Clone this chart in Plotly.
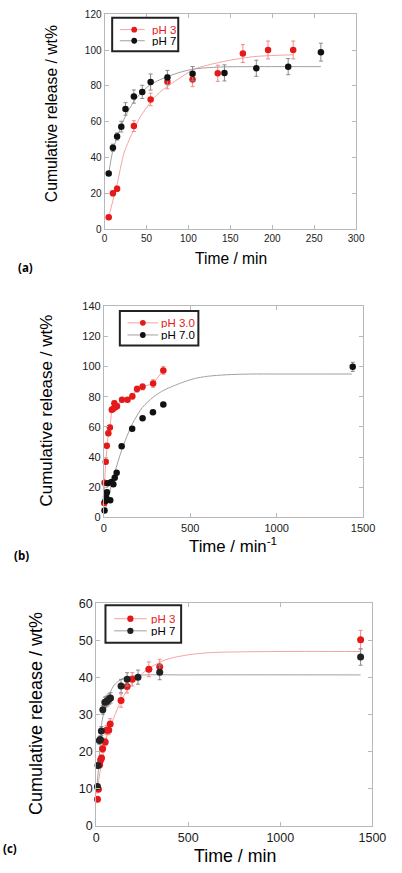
import plotly.graph_objects as go

W, H = 402, 873
FONT = "Liberation Sans, Arial, sans-serif"
RED = "#e41a1a"
RED_FIT = "#f4a3a3"
RED_ERR = "#f08a8a"
BLK = "#111111"
GRAY_FIT = "#a0a0a0"
GRAY_ERR = "#8a8a8a"

# ---------------- Panel (a) ----------------
a_t3 = [5, 10, 15, 35, 55, 75, 105, 135, 165, 195, 225]
a_y3 = [6.6, 20, 22.5, 57.5, 72.4, 82.3, 83.5, 87, 98, 100, 100]
a_e3 = [1, 1.5, 1.5, 3, 3.5, 4, 4, 4.5, 5, 5, 5]
a_t7 = [5, 10, 15, 20, 25, 35, 45, 55, 75, 105, 143, 181, 219, 258]
a_y7 = [31.1, 45.4, 51.7, 57.2, 67.1, 74, 76.6, 82.1, 84.6, 86.8, 87.2, 89.8, 90.7, 98.8]
a_e7 = [1, 2, 2, 3, 3.5, 3.7, 3.7, 4.5, 4, 4, 4.5, 4.5, 4.5, 5]
a_fit3_t = [5, 10, 15, 23.6, 35, 42.6, 61.7, 80.7, 107, 138, 176, 199, 225]
a_fit3_y = [6.5, 16, 25, 43, 55.5, 62.6, 74.6, 81.5, 89.2, 93.2, 96.2, 96.9, 97.3]
a_fit7_t = [5, 10, 16, 25.5, 38.8, 54, 77, 104, 138, 180, 258]
a_fit7_y = [31, 44, 52.6, 63.6, 73.6, 80.4, 85.5, 89.2, 90.5, 90.7, 90.7]
a_names = ["pH 3", "pH 7"]

# ---------------- Panel (b) ----------------
b_t3 = [2, 4, 11, 17, 26, 35, 46, 54, 61, 66, 76, 105, 137, 165, 192, 224, 285, 344]
b_y3 = [9.6, 23, 36.8, 47.4, 55.7, 59.6, 71.3, 72, 75.7, 73, 73.7, 78, 77.9, 80.2, 85, 86.5, 88.7, 97.4]
b_e3 = [1, 1.5, 1.5, 1.5, 1.5, 1.5, 1.5, 1.5, 1.5, 1.5, 1.5, 1.5, 1.5, 2, 2, 2, 2.5, 2.5]
b_t7 = [4, 9, 13, 18, 22, 37, 44, 55, 63, 74, 103, 164, 224, 284, 344, 1440]
b_y7 = [4.6, 10.9, 13.3, 16.7, 22.6, 11.3, 23.5, 22, 26.3, 29.6, 47.2, 58.7, 65.7, 69.6, 74.8, 99.8]
b_e7 = [0.5, 0.5, 0.5, 0.5, 0.5, 0.5, 0.5, 0.5, 0.5, 0.5, 0.8, 0.8, 0.8, 0.8, 0.8, 3]
b_fit7_t = [8, 30, 63, 104, 165, 224, 285, 349, 469, 525, 600, 709, 850, 1000, 1200, 1435]
b_fit7_y = [5, 15, 29.6, 44.8, 62, 73, 79.6, 84.4, 90, 92, 93.5, 94.5, 95, 95, 95, 95]
b_names = ["pH 3.0", "pH 7.0"]

# ---------------- Panel (c) ----------------
c_t3 = [7, 12, 19, 24, 29, 35, 49, 56, 68, 76, 135, 168, 196, 286, 345, 1436]
c_y3 = [7.2, 9.9, 16.5, 17.8, 18.3, 20.8, 22.6, 25.8, 25.8, 27.5, 33.8, 37.6, 39.5, 42.2, 42.9, 50.2]
c_e3 = [0.5, 0.5, 0.8, 0.8, 0.8, 1, 1, 1.2, 1.2, 1.4, 1.8, 1.8, 1.8, 2, 2, 2.5]
c_t7 = [7, 10, 17, 23, 28, 36, 47, 55, 62, 71, 78, 135, 168, 227, 345, 1436]
c_y7 = [10.6, 16.3, 23, 23.3, 25.6, 31.3, 33.3, 33.5, 33.8, 34.2, 34.5, 37.7, 39.5, 40.1, 41.4, 45.5]
c_e7 = [0.5, 0.8, 1, 1, 1.2, 1.2, 1.4, 1.4, 1.4, 1.4, 1.4, 1.8, 1.8, 1.9, 2, 2.2]
c_fit3_t = [3.6, 24.5, 59, 94, 136, 205, 291, 378, 499, 621, 951, 1436]
c_fit3_y = [8.6, 15.6, 24.5, 28.9, 33.9, 39, 42.6, 44.8, 46.1, 46.7, 47, 47]
c_fit7_t = [2, 16, 31, 59, 94, 146, 233, 500, 1436]
c_fit7_y = [9.5, 17.5, 28, 33.5, 37.7, 39.8, 40.6, 40.7, 40.7]
c_names = ["pH 3", "pH 7"]

fig = go.Figure()


def fit(xa, ya, t, y, color):
    fig.add_trace(go.Scatter(x=t, y=y, mode="lines", xaxis=xa, yaxis=ya,
                             line=dict(color=color, width=1, shape="spline", smoothing=0.8),
                             showlegend=False, hoverinfo="skip", cliponaxis=False))


def pts(xa, ya, t, y, e, color, ecolor, size, name, mode="markers", lcolor=None):
    fig.add_trace(go.Scatter(x=t, y=y, mode=mode, xaxis=xa, yaxis=ya, name=name,
                             marker=dict(color=color, size=size),
                             line=dict(color=lcolor or color, width=1),
                             error_y=dict(type="data", array=e, color=ecolor, thickness=1, width=2),
                             showlegend=False, cliponaxis=False))


# (a)
fit("x", "y", a_fit3_t, a_fit3_y, RED_FIT)
fit("x", "y", a_fit7_t, a_fit7_y, GRAY_FIT)
pts("x", "y", a_t3, a_y3, a_e3, RED, RED_ERR, 6.5, a_names[0])
pts("x", "y", a_t7, a_y7, a_e7, BLK, GRAY_ERR, 6.5, a_names[1])

# (b)
fit("x2", "y2", b_fit7_t, b_fit7_y, GRAY_FIT)
pts("x2", "y2", b_t3, b_y3, b_e3, RED, RED_ERR, 6.5, b_names[0], mode="lines+markers", lcolor=RED_FIT)
pts("x2", "y2", b_t7, b_y7, b_e7, BLK, GRAY_ERR, 6.5, b_names[1])

# (c)
fit("x3", "y3", c_fit3_t, c_fit3_y, RED_FIT)
fit("x3", "y3", c_fit7_t, c_fit7_y, GRAY_FIT)
pts("x3", "y3", c_t3, c_y3, c_e3, RED, RED_ERR, 7, c_names[0])
pts("x3", "y3", c_t7, c_y7, c_e7, "#222222", GRAY_ERR, 7, c_names[1])


def px(x):
    return x / W


def py(y):
    return 1 - y / H


def dx(l, r):
    return [px(l), px(r)]


def dy(t, b):
    return [py(b), py(t)]


def ax(dom, rng, dtick, size, anchor):
    return dict(domain=dom, range=rng, dtick=dtick, tick0=0, anchor=anchor,
                showline=True, linecolor="#b8b8b8", linewidth=1, mirror="ticks",
                ticks="inside", ticklen=4, tickcolor="#b8b8b8", showgrid=False,
                zeroline=False, tickfont=dict(family=FONT, size=size, color="#1a1a1a"))


ann = []
shapes = []


def text(x, y, s, size, angle=0, family=FONT, color="#000", xanchor="center", height=None):
    d = dict(x=px(x), y=py(y), xref="paper", yref="paper", text=s,
             showarrow=False, textangle=angle, xanchor=xanchor, yanchor="middle",
             font=dict(family=family, size=size, color=color))
    if height:
        d["height"] = height
    ann.append(d)


def legend_box(box, rows, names, colors, lcolors, tcolors, line_x, mk_x, txt_x, msize, fsize):
    x0, y0, x1, y1 = box
    shapes.append(dict(type="rect", xref="paper", yref="paper", x0=px(x0), x1=px(x1),
                       y0=py(y1), y1=py(y0), line=dict(color="#222", width=2),
                       fillcolor="white", layer="above"))
    for r, n, c, lc, tc in zip(rows, names, colors, lcolors, tcolors):
        shapes.append(dict(type="line", xref="paper", yref="paper", x0=px(line_x[0]),
                           x1=px(line_x[1]), y0=py(r), y1=py(r),
                           line=dict(color=lc, width=1), layer="above"))
        rr = msize / 2
        shapes.append(dict(type="circle", xref="paper", yref="paper", x0=px(mk_x - rr),
                           x1=px(mk_x + rr), y0=py(r + rr), y1=py(r - rr),
                           line=dict(color=c, width=0), fillcolor=c, layer="above"))
        text(txt_x, r, n, fsize, color=tc, xanchor="left", height=11)


legend_box((114, 11, 183, 45), (23, 34.3), a_names, (RED, BLK), (RED_FIT, GRAY_FIT),
           (RED, "#000"), (122, 148), 137, 154, 6, 11.5)
legend_box((122, 309, 204, 344), (321, 333.3), b_names, (RED, BLK), (RED_FIT, GRAY_FIT),
           (RED, "#000"), (130, 162), 146, 163, 6, 11.5)
legend_box((107, 608, 186, 646), (621.7, 634), c_names, (RED, "#222"), (RED_FIT, GRAY_FIT),
           (RED, "#000"), (116, 150), 133, 152, 6.5, 11.5)

text(50, 108, "Cumulative release / wt%", 15.7, -90)
text(238, 256, "Time / min", 15.6)
text(24, 265, "<b>(a)</b>", 11.5, family="Open Sans, sans-serif")

text(45, 410, "Cumulative release / wt%", 17, -90)
text(240, 547, "Time / min<sup>-1</sup>", 16.8)
text(19, 557, "<b>(b)</b>", 11.5, family="Open Sans, sans-serif")

text(35, 718, "Cumulative release / wt%", 18, -90)
text(242, 863, "Time / min", 17.8)
text(7, 855, "<b>(c)</b>", 11.5, family="Open Sans, sans-serif")

fig.update_layout(
    width=W, height=H, margin=dict(l=0, r=0, t=0, b=0),
    paper_bgcolor="white", plot_bgcolor="white",
    xaxis=ax(dx(106, 368.7), [0, 300], 50, 10, "y"),
    yaxis=ax(dy(7.3, 225.7), [0, 120], 20, 10, "x"),
    xaxis2=ax(dx(105.3, 376), [0, 1500], 500, 11, "y2"),
    yaxis2=ax(dy(304, 518.7), [0, 140], 20, 11, "x2"),
    xaxis3=ax(dx(97.3, 385.7), [0, 1500], 500, 12.5, "y3"),
    yaxis3=ax(dy(606, 832.3), [0, 60], 10, 12.5, "x3"),
    annotations=ann,
    shapes=shapes,
    showlegend=False,
)

fig.write_html("out.html", config={"displayModeBar": False},
               post_script="document.body.style.margin='0px';document.body.style.overflow='hidden';")
